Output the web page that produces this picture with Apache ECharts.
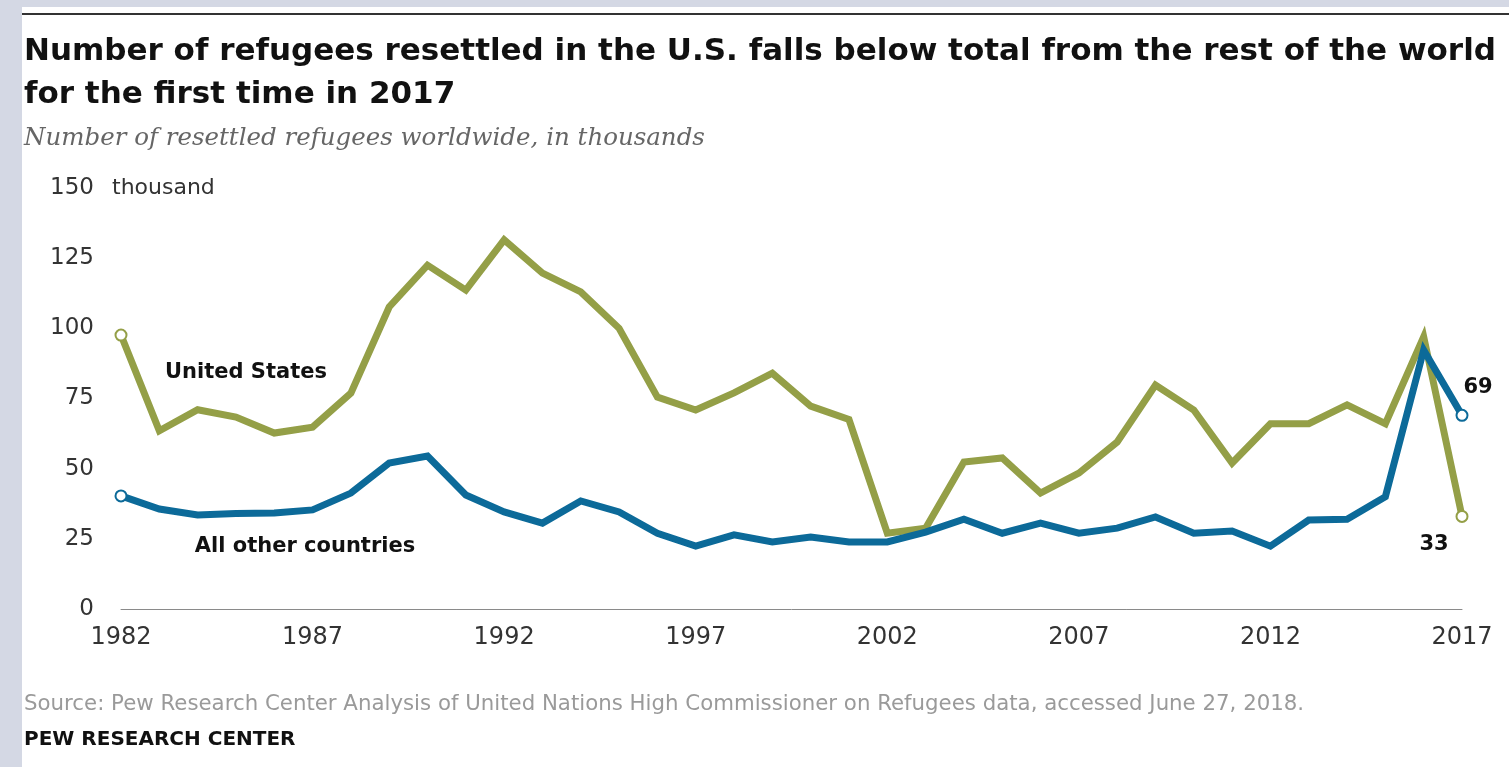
<!DOCTYPE html>
<html>
<head>
<meta charset="utf-8">
<script src="https://cdn.jsdelivr.net/npm/echarts@6/dist/echarts.min.js"></script>
<style>
  html, body { margin: 0; padding: 0; background: #d4d8e4; }
  #chart { position: absolute; left: 22px; top: 7px; width: 1487px; height: 760px; background: #fff; }
</style>
</head>
<body>
<div id="chart"></div>
<script>
// categories
const years = ['1982','1983','1984','1985','1986','1987','1988','1989','1990','1991',
  '1992','1993','1994','1995','1996','1997','1998','1999','2000','2001',
  '2002','2003','2004','2005','2006','2007','2008','2009','2010','2011',
  '2012','2013','2014','2015','2016','2017']

// resettled refugees, thousands
const unitedStates = [97.6, 63.5, 71, 68.4, 62.7, 64.8, 76.9, 107.6, 122.5, 113.6,
  131.5, 119.7, 113, 100, 75.5, 70.9, 77, 84, 72.3, 67.5,
  27, 28.8, 52.4, 53.8, 41.3, 48.4, 59.5, 79.8, 70.9, 52,
  66, 66, 72.7, 66, 97, 33]
const otherCountries = [40.3, 35.6, 33.5, 34, 34.2, 35.3, 41.3, 52, 54.5, 40.6,
  34.6, 30.6, 38.5, 34.6, 27, 22.4, 26.4, 23.9, 25.6, 23.9,
  23.9, 27.4, 32, 27, 30.6, 27, 28.8, 32.8, 27, 27.8,
  22.4, 31.7, 32, 40, 92.3, 69]

const yTicks = [0, 25, 50, 75, 100, 125, 150]

const GREEN = '#949f47'
const BLUE = '#0c6a99'
const SANS = 'DejaVu Sans'

// only first and last points get the hollow ring
function withEnds(values, color, labelOpt) {
  const last = values.length - 1
  return values.map((v, i) => {
    if (i !== 0 && i !== last) return v
    const item = {
      value: v,
      symbol: 'circle',
      symbolSize: 11,
      itemStyle: { color: '#fff', borderColor: color, borderWidth: 2 }
    }
    if (i === last) item.label = labelOpt
    return item
  })
}

const chart = echarts.init(document.getElementById('chart'))

chart.setOption({
  animation: false,
  title: [{
    text: 'Number of refugees resettled in the U.S. falls below total from the rest of the world\nfor the first time in 2017',
    left: -3,
    top: 18,
    textStyle: { fontFamily: SANS, fontWeight: 'bold', fontSize: 31, lineHeight: 43, color: '#111' }
  }, {
    text: 'Number of resettled refugees worldwide, in thousands',
    left: -3,
    top: 114,
    textStyle: { fontFamily: 'DejaVu Serif', fontStyle: 'italic', fontWeight: 'normal', fontSize: 24.5, color: '#666' }
  }, {
    text: 'Source: Pew Research Center Analysis of United Nations High Commissioner on Refugees data, accessed June 27, 2018.',
    left: -3,
    top: 682,
    textStyle: { fontFamily: SANS, fontWeight: 'normal', fontSize: 21.3, color: '#9a9a9a' }
  }, {
    text: 'PEW RESEARCH CENTER',
    left: -3,
    top: 718,
    textStyle: { fontFamily: SANS, fontWeight: 'bold', fontSize: 20, color: '#111' }
  }],
  grid: { left: 99, right: 47, top: 181, bottom: 158 },
  xAxis: {
    type: 'category',
    data: years,
    boundaryGap: false,
    axisLine: { show: true, lineStyle: { color: '#8a8a8a', width: 1 } },
    axisTick: { show: false },
    axisLabel: {
      interval: 4,
      margin: 17,
      fontFamily: SANS,
      fontSize: 24,
      color: '#333'
    },
    splitLine: { show: false }
  },
  yAxis: {
    type: 'value',
    min: yTicks[0],
    max: yTicks[yTicks.length - 1],
    interval: 25,
    axisLine: { show: false },
    axisTick: { show: false },
    splitLine: { show: false },
    axisLabel: {
      margin: 27,
      fontFamily: SANS,
      fontSize: 23,
      color: '#333'
    }
  },
  graphic: [{
    type: 'rect',
    shape: { x: 0, y: 6, width: 1487, height: 2 },
    style: { fill: '#333' }
  }, {
    type: 'text',
    x: 90, y: 181,
    style: { text: 'thousand', fontFamily: SANS, fontSize: 22, fill: '#333', verticalAlign: 'middle' }
  }, {
    type: 'text',
    x: 224, y: 366,
    style: { text: 'United States', fontFamily: SANS, fontWeight: 'bold', fontSize: 21, fill: '#111', align: 'center', verticalAlign: 'middle' }
  }, {
    type: 'text',
    x: 283, y: 540,
    style: { text: 'All other countries', fontFamily: SANS, fontWeight: 'bold', fontSize: 21, fill: '#111', align: 'center', verticalAlign: 'middle' }
  }],
  series: [{
    name: 'United States',
    type: 'line',
    symbol: 'none',
    lineStyle: { color: GREEN, width: 7, join: 'miter' },
    itemStyle: { color: GREEN },
    z: 2,
    data: withEnds(unitedStates, GREEN, {
      show: true, position: 'bottom', offset: [-28, 6],
      fontFamily: SANS, fontWeight: 'bold', fontSize: 21, color: '#111',
      formatter: p => Math.round(p.value)
    })
  }, {
    name: 'All other countries',
    type: 'line',
    symbol: 'none',
    lineStyle: { color: BLUE, width: 7, join: 'miter' },
    itemStyle: { color: BLUE },
    z: 3,
    data: withEnds(otherCountries, BLUE, {
      show: true, position: 'top', offset: [16, -6],
      fontFamily: SANS, fontWeight: 'bold', fontSize: 21, color: '#111',
      formatter: p => Math.round(p.value)
    })
  }]
})
</script>
</body>
</html>
